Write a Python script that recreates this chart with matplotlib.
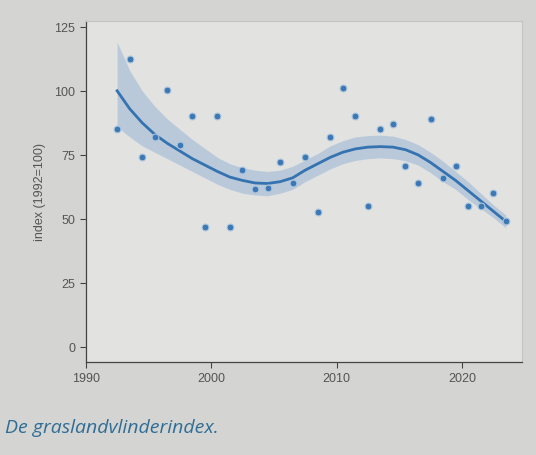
import numpy as np
import matplotlib.pyplot as plt

plt.rcParams['font.family'] = ['Liberation Sans', 'DejaVu Sans']

# yearly index values (dots)
years = [1992, 1993, 1994, 1995, 1996, 1997, 1998, 1999, 2000, 2001, 2002,
         2003, 2004, 2005, 2006, 2007, 2008, 2009, 2010, 2011, 2012, 2013,
         2014, 2015, 2016, 2017, 2018, 2019, 2020, 2021, 2022, 2023]
index_values = [85, 112.5, 74, 82, 100.5, 79, 90, 47, 90, 47, 69,
                61.5, 62, 72, 64, 74, 52.5, 82, 101, 90, 55, 85,
                87, 70.5, 64, 89, 66, 70.5, 55, 55, 60, 49]

# smoothed trend with its confidence band
trend = [100, 93, 87.5, 83, 79.5, 76.5, 73.5, 71, 68.5, 66.3, 65,
         64, 63.8, 64.5, 66, 69, 71.5, 74, 76, 77.3, 78, 78.2,
         78, 77, 75, 72, 68.5, 65, 61, 57, 53, 49]
upper = [119, 108, 100, 94, 89, 85, 81, 77.5, 74, 71.5, 70,
         69, 68.5, 69, 70.5, 73, 75.5, 78.5, 80.5, 82, 82.5, 82.7,
         82.3, 81, 79, 76, 72.5, 68.5, 64.5, 60, 55.5, 51.5]
lower = [86, 82, 78.5, 76, 73.5, 71, 68.5, 66, 63.5, 61.5, 60,
         59.3, 59, 60, 61.5, 64.5, 67, 69.5, 71.5, 72.8, 73.5, 73.8,
         73.5, 72.7, 71, 68, 64.5, 61.5, 57.5, 54, 50.5, 46.5]

x_ticks = [1990, 2000, 2010, 2020]
y_ticks = [0, 25, 50, 75, 100, 125]

# values are plotted mid-year
x = np.array(years) + 0.5

fig = plt.figure(figsize=(5.36, 4.56), dpi=100, facecolor='#d4d4d2')
ax = fig.add_axes([0.160, 0.204, 0.814, 0.748])
ax.set_facecolor('#e2e2e0')

ax.fill_between(x, lower, upper, color='#a3bdd8', alpha=0.65, linewidth=0)
ax.plot(x, trend, color='#3572b0', linewidth=2.0)
ax.scatter(x, index_values, s=24, color='#3b78b4', edgecolor='#aac5de',
           linewidth=0.8, zorder=3)

ax.set_xlim(1990, 2024.8)
ax.set_ylim(-5.9, 127.3)
ax.set_xticks(x_ticks)
ax.set_yticks(y_ticks)
ax.tick_params(direction='out', length=4, width=0.8, color='#444444',
               labelcolor='#555555', labelsize=9)
for side in ['left', 'bottom']:
    ax.spines[side].set_color('#444444')
    ax.spines[side].set_linewidth(0.9)
for side in ['top', 'right']:
    ax.spines[side].set_color('#c4c4c2')
    ax.spines[side].set_linewidth(0.8)

ax.set_ylabel('index (1992=100)', color='#555555', fontsize=9, labelpad=6)

fig.text(0.01, 0.05, 'De graslandvlinderindex.', color='#2f6d96',
         fontsize=14, style='italic', family=['Open Sans', 'DejaVu Sans'])

plt.savefig('out.png', dpi=100, facecolor=fig.get_facecolor())
